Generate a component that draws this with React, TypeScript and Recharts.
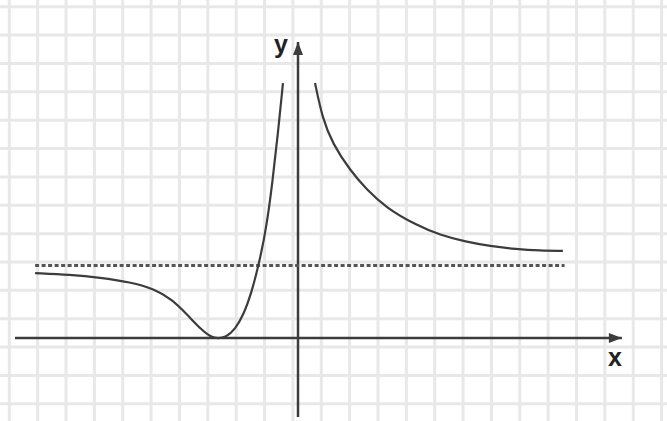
import React from "react";
import {
    ComposedChart,
    Line,
    XAxis,
    YAxis,
    ReferenceLine,
    ReferenceArea,
    ReferenceDot,
} from "recharts";

// grid positions in graph units (one square = 1)
const gridX = [
    -10.18, -9.18, -8.18, -7.18, -6.18, -5.18, -4.18, -3.18, -2.18, -1.18, -0.18,
    0.82, 1.82, 2.82, 3.82, 4.82, 5.82, 6.82, 7.82, 8.82, 9.82, 10.82, 11.82, 12.82,
];
const gridY = [
    -2.32, -1.32, -0.32, 0.68, 1.68, 2.68, 3.68, 4.68, 5.68, 6.68, 7.68, 8.68, 9.68, 10.68, 11.68,
];

// left branch (with the touch at the x axis)
const leftBranch = [
    { x: -9.27, y: 2.29 },
    { x: -8.04, y: 2.23 },
    { x: -6.98, y: 2.13 },
    { x: -5.92, y: 1.97 },
    { x: -5.04, y: 1.72 },
    { x: -4.45, y: 1.36 },
    { x: -3.92, y: 0.84 },
    { x: -3.42, y: 0.3 },
    { x: -3.05, y: 0.02 },
    { x: -2.82, y: -0.02 },
    { x: -2.55, y: 0.02 },
    { x: -2.22, y: 0.3 },
    { x: -1.92, y: 0.82 },
    { x: -1.64, y: 1.6 },
    { x: -1.38, y: 2.6 },
    { x: -1.12, y: 3.85 },
    { x: -0.9, y: 5.5 },
    { x: -0.71, y: 7.2 },
    { x: -0.53, y: 8.99 },
];

// right branch, falling towards the asymptote
const rightBranch = [
    { x: 0.6, y: 8.99 },
    { x: 0.86, y: 7.75 },
    { x: 1.22, y: 6.85 },
    { x: 1.83, y: 5.92 },
    { x: 2.43, y: 5.22 },
    { x: 3.1, y: 4.6 },
    { x: 4.16, y: 3.98 },
    { x: 5.01, y: 3.63 },
    { x: 5.92, y: 3.39 },
    { x: 6.77, y: 3.24 },
    { x: 7.69, y: 3.13 },
    { x: 8.53, y: 3.08 },
    { x: 9.34, y: 3.07 },
];

const asymptoteY = 2.56;
const asymptoteX = [-9.27, 9.4];

const xAxisSpan = [-9.98, 11.42];
const yAxisSpan = [-2.79, 10.44];

const X_DOMAIN: [number, number] = [-10.508, 13.011];
const Y_DOMAIN: [number, number] = [-2.927, 11.918];

const AXIS = "#3c3c3c";
const GRID = "#e8e8e8";

const ArrowRight = (props: any) => {
    const { cx, cy } = props;
    return <polygon points={`${cx},${cy} ${cx - 13},${cy - 5} ${cx - 13},${cy + 5}`} fill={AXIS} />;
};

const ArrowUp = (props: any) => {
    const { cx, cy } = props;
    return <polygon points={`${cx},${cy} ${cx - 5},${cy + 13} ${cx + 5},${cy + 13}`} fill={AXIS} />;
};

const makeLabel = (text: string) => (props: any) => (
    <text
        x={props.cx}
        y={props.cy}
        textAnchor="middle"
        fontFamily="Liberation Sans, Arial, sans-serif"
        fontWeight="bold"
        fontSize={25}
        fill="#222"
    >
        {text}
    </text>
);

const App: React.FC = () => {
    return (
        <div style={{ position: "absolute", left: 0, top: 0, background: "#fff" }}>
            <ComposedChart width={667} height={421} margin={{ top: 0, right: 0, bottom: 0, left: 0 }}>
                <XAxis dataKey="x" type="number" domain={X_DOMAIN} allowDataOverflow hide />
                <YAxis dataKey="y" type="number" domain={Y_DOMAIN} allowDataOverflow hide />

                {gridX.map((v) => (
                    <ReferenceLine key={`gx${v}`} x={v} stroke={GRID} strokeWidth={3} />
                ))}
                {gridY.map((v) => (
                    <ReferenceLine key={`gy${v}`} y={v} stroke={GRID} strokeWidth={3} />
                ))}
                {/* blank corner at top right */}
                <ReferenceArea x1={8.7} x2={X_DOMAIN[1]} y1={8.5} y2={Y_DOMAIN[1]} fill="#fff" fillOpacity={1} stroke="none" />

                {/* axes */}
                <ReferenceLine
                    segment={[{ x: xAxisSpan[0], y: 0 }, { x: xAxisSpan[1], y: 0 }]}
                    stroke={AXIS}
                    strokeWidth={2.5}
                />
                <ReferenceLine
                    segment={[{ x: 0, y: yAxisSpan[0] }, { x: 0, y: yAxisSpan[1] }]}
                    stroke={AXIS}
                    strokeWidth={2.5}
                />
                <ReferenceDot x={xAxisSpan[1]} y={0} r={0} shape={ArrowRight} />
                <ReferenceDot x={0} y={yAxisSpan[1]} r={0} shape={ArrowUp} />
                <ReferenceDot x={-0.6} y={10.06} r={0} shape={makeLabel("y")} />
                <ReferenceDot x={11.18} y={-0.99} r={0} shape={makeLabel("x")} />

                {/* horizontal asymptote */}
                <ReferenceLine
                    segment={[{ x: asymptoteX[0], y: asymptoteY }, { x: asymptoteX[1], y: asymptoteY }]}
                    stroke="#555"
                    strokeWidth={3}
                    strokeDasharray="4 2.5"
                />

                <Line
                    data={leftBranch}
                    dataKey="y"
                    type="basis"
                    stroke={AXIS}
                    strokeWidth={2.2}
                    dot={false}
                    activeDot={false}
                    isAnimationActive={false}
                />
                <Line
                    data={rightBranch}
                    dataKey="y"
                    type="basis"
                    stroke={AXIS}
                    strokeWidth={2.2}
                    dot={false}
                    activeDot={false}
                    isAnimationActive={false}
                />
            </ComposedChart>
        </div>
    );
};

export default App;
